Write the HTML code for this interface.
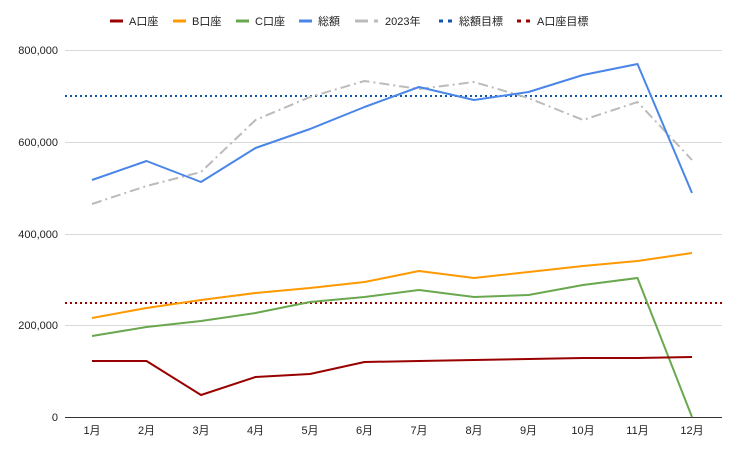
<!DOCTYPE html>
<html><head><meta charset="utf-8"><style>
html,body{margin:0;padding:0;background:#fff;}
svg text{font-family:"Liberation Sans","Noto Sans CJK JP",sans-serif;font-size:11px;fill:#222;}
</style></head><body>
<svg width="730" height="450" viewBox="0 0 730 450" xmlns="http://www.w3.org/2000/svg">
<g stroke="#d9d9d9" stroke-width="1">
<line x1="65" x2="722" y1="50.5" y2="50.5"/>
<line x1="65" x2="722" y1="142.5" y2="142.5"/>
<line x1="65" x2="722" y1="234.5" y2="234.5"/>
<line x1="65" x2="722" y1="325.5" y2="325.5"/>
</g>
<line x1="65" x2="722" y1="417.5" y2="417.5" stroke="#333" stroke-width="1"/>
<g text-anchor="end">
<text x="58" y="54">800,000</text>
<text x="58" y="146">600,000</text>
<text x="58" y="238">400,000</text>
<text x="58" y="329">200,000</text>
<text x="58" y="421">0</text>
</g>
<g text-anchor="middle">
<text x="92" y="434">1月</text><text x="146.5" y="434">2月</text><text x="201" y="434">3月</text><text x="255.5" y="434">4月</text><text x="310" y="434">5月</text><text x="364.5" y="434">6月</text><text x="419" y="434">7月</text><text x="474" y="434">8月</text><text x="528.5" y="434">9月</text><text x="583" y="434">10月</text><text x="637.5" y="434">11月</text><text x="692" y="434">12月</text>
</g>
<line x1="65" x2="722" y1="96" y2="96" stroke="#1155aa" stroke-width="2" stroke-dasharray="2,3"/>
<line x1="65" x2="722" y1="303" y2="303" stroke="#990000" stroke-width="2" stroke-dasharray="2,3"/>
<g fill="none" stroke-width="2" stroke-linejoin="round">
<polyline stroke="#bbbbbb" stroke-dasharray="10,4,2,4" points="92,204 146.5,186 201,172 255.5,120 310,97 364.5,81 419,89 474,82 528.5,98 583,120 637.5,102 692,160"/>
<polyline stroke="#4a86e8" points="92,180 146.5,161 201,182 255.5,148 310,129 364.5,107 419,87 474,100 528.5,92 583,75 637.5,64 692,193"/>
<polyline stroke="#ff9900" points="92,318 146.5,308 201,300 255.5,293 310,288 364.5,282 419,271 474,278 528.5,272 583,266 637.5,261 692,253"/>
<polyline stroke="#6aa84f" points="92,336 146.5,327 201,321 255.5,313 310,302 364.5,297 419,290 474,297 528.5,295 583,285 637.5,278 692,417"/>
<polyline stroke="#990000" points="92,361 146.5,361 201,395 255.5,377 310,374 364.5,362 419,361 474,360 528.5,359 583,358 637.5,358 692,357"/>
</g>
<g stroke-width="3">
<line x1="110" x2="123" y1="21" y2="21" stroke="#990000"/>
<line x1="173" x2="186" y1="21" y2="21" stroke="#ff9900"/>
<line x1="236" x2="249" y1="21" y2="21" stroke="#6aa84f"/>
<line x1="299" x2="312" y1="21" y2="21" stroke="#4a86e8"/>
<line x1="355" x2="368" y1="21" y2="21" stroke="#bbbbbb"/>
<line x1="374" x2="378" y1="21" y2="21" stroke="#bbbbbb"/>
<line x1="439" x2="443" y1="21" y2="21" stroke="#1155aa"/>
<line x1="448" x2="452" y1="21" y2="21" stroke="#1155aa"/>
<line x1="517" x2="521" y1="21" y2="21" stroke="#990000"/>
<line x1="526" x2="530" y1="21" y2="21" stroke="#990000"/>
</g>
<text x="129" y="25">A口座</text>
<text x="192" y="25">B口座</text>
<text x="255" y="25">C口座</text>
<text x="318" y="25">総額</text>
<text x="385" y="25">2023年</text>
<text x="459" y="25">総額目標</text>
<text x="537" y="25">A口座目標</text>
</svg>
</body></html>
